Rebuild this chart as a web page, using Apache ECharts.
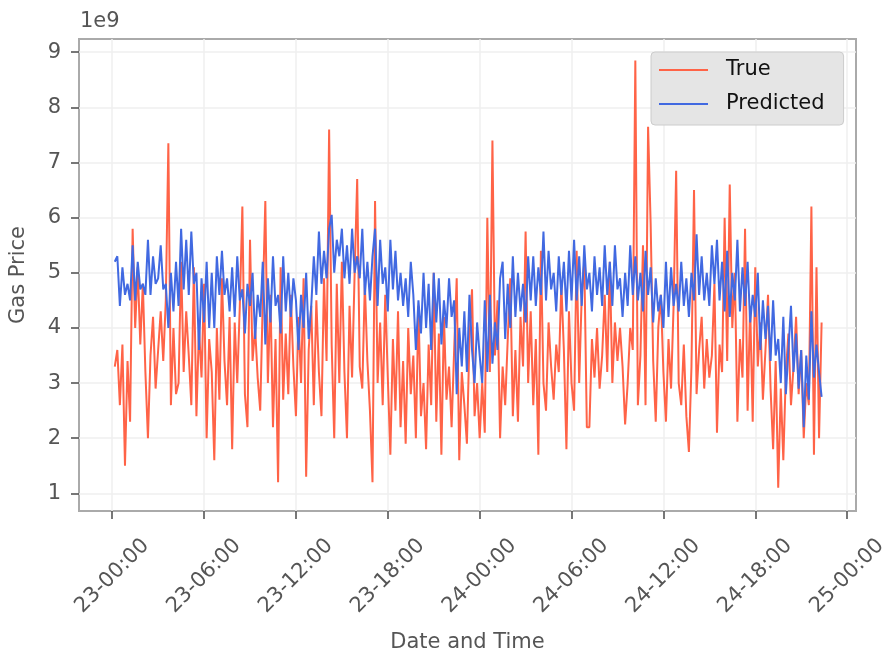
<!DOCTYPE html>
<html><head><meta charset="utf-8">
<script src="https://cdn.jsdelivr.net/npm/echarts@6/dist/echarts.min.js"></script>
<style>html,body{margin:0;padding:0;background:#fff}#c{width:888px;height:654px}</style>
</head><body><div id="c"></div>
<script>
// ---- data (gas price in units of 1e9) ----
const seriesNames = ['True', 'Predicted'];
const startLabel = '23-00:10';   // first sample (day-hour:minute)
const stepMinutes = 10;
const trueValues = [
 3.3,3.6,2.6,3.7,1.5,3.4, 2.3,5.8,4.0,5.1,3.7,4.8, 3.2,2.0,3.5,4.2,2.9,3.6, 4.3,3.4,4.5,7.35,2.6,4.0,
 2.8,3.0,5.2,3.2,4.3,3.5, 2.6,5.1,2.4,4.0,3.1,4.8, 2.0,3.8,3.2,1.6,4.0,2.7, 4.9,3.4,2.6,4.2,1.8,4.1,
 3.0,4.4,6.2,2.8,2.2,5.6, 3.4,4.0,3.1,2.5,4.5,6.3, 3.0,4.6,2.2,3.8,1.2,5.1, 2.7,3.9,2.8,4.6,3.3,2.4,
 4.2,3.0,4.9,1.3,3.6,4.4, 2.6,4.5,3.2,2.4,4.9,3.4, 7.6,3.7,2.0,4.8,3.0,5.2, 3.2,2.0,4.4,3.1,5.0,6.7,
 3.3,2.9,4.8,3.4,2.5,1.2, 6.3,3.0,4.1,2.6,4.6,3.1, 1.7,3.8,2.5,4.3,2.2,3.4, 1.9,4.0,2.8,3.5,2.0,4.4,
 2.4,3.0,1.8,3.7,2.6,5.0, 2.3,3.9,1.7,4.2,2.7,3.3, 2.2,3.6,4.9,1.6,3.2,2.6, 1.9,3.8,4.7,2.4,3.0,2.0,
 3.0,2.1,6.0,3.2,7.4,3.5, 4.5,2.0,3.3,2.6,3.8,4.9, 2.4,3.6,2.3,4.2,3.3,5.75, 3.0,4.3,2.6,3.8,1.7,5.4,
 3.0,2.5,4.1,3.3,2.7,3.7, 3.2,4.8,3.6,1.8,4.3,3.0, 2.5,5.4,3.0,4.6,5.2,2.2, 2.2,3.8,3.1,4.0,2.9,3.5,
 4.6,3.2,5.2,3.0,4.1,3.4, 4.0,3.3,2.25,3.0,4.0,3.6, 8.85,2.6,3.5,5.5,2.6,7.65, 5.9,3.4,2.3,4.0,4.6,3.2,
 2.3,3.8,2.9,4.4,6.85,3.0, 2.6,3.7,2.4,1.75,3.3,6.5, 2.8,3.6,4.2,2.9,3.8,3.1, 3.5,4.8,2.1,3.7,3.2,6.0,
 3.4,6.6,4.0,5.0,2.3,3.8, 3.1,5.8,2.5,4.4,2.3,5.1, 3.3,4.1,2.7,3.6,4.6,2.9, 1.8,3.4,1.1,2.9,1.6,3.2,
 3.9,2.6,3.3,4.2,2.8,3.6, 2.0,3.0,2.6,6.2,1.7,5.1, 2.0,4.1
];
const predictedValues = [
 5.2,5.3,4.4,5.1,4.6,4.8, 4.5,5.5,4.5,5.2,4.7,4.8, 4.6,5.6,4.6,5.3,4.8,4.9, 5.5,4.7,4.8,4.0,5.0,4.3,
 5.2,4.4,5.8,4.7,5.6,4.6, 5.75,4.8,5.0,3.6,4.9,4.1, 5.2,4.0,5.0,4.0,5.3,4.6, 5.4,4.6,4.9,4.3,5.1,4.2,
 5.3,4.5,4.7,3.9,4.8,4.4, 5.0,3.8,4.6,4.2,5.2,3.7, 4.9,4.1,5.3,4.4,4.6,3.9, 5.3,4.3,5.0,4.2,4.9,4.5,
 3.6,4.6,4.0,5.0,3.8,4.4, 5.3,4.6,5.75,4.8,5.4,4.9, 5.8,6.05,5.0,5.6,5.3,5.8, 4.9,5.5,4.8,5.8,5.0,5.3,
 4.9,5.8,4.6,5.2,4.5,5.3, 5.8,4.4,5.6,4.8,5.1,4.3, 5.6,4.7,5.4,4.5,5.0,4.4, 4.9,4.2,5.2,4.6,3.6,4.5,
 3.9,5.0,4.0,4.8,3.6,5.0, 4.1,4.9,3.7,4.5,4.0,4.9, 4.2,4.5,2.8,4.0,3.3,4.3, 3.2,4.6,3.6,3.0,4.1,3.5,
 3.0,4.5,3.2,4.6,3.35,4.1, 3.6,4.9,5.2,3.8,4.8,4.0, 5.3,4.2,5.0,4.3,4.8,4.1, 5.3,4.5,5.3,4.4,5.1,4.6,
 5.75,4.5,5.4,4.7,5.0,4.3, 5.3,4.6,5.2,4.3,5.4,4.5, 5.6,4.5,5.3,4.4,5.5,4.7, 5.0,4.3,5.3,4.6,5.1,4.4,
 5.5,4.6,5.2,4.4,5.5,4.7, 4.9,4.2,5.0,4.4,5.5,4.6, 5.3,4.5,5.0,4.3,5.4,4.6, 5.1,4.1,4.9,4.3,4.6,4.0,
 5.2,4.2,5.1,4.4,4.8,4.3, 5.2,4.4,4.9,4.2,5.0,4.5, 5.7,4.6,5.3,4.5,5.0,4.4, 5.5,4.8,5.6,4.5,5.2,4.3,
 5.4,4.2,5.0,4.5,5.6,4.3, 5.1,4.4,5.2,4.1,4.6,4.2, 5.0,3.6,4.5,3.8,4.4,3.4, 4.5,3.5,3.8,3.0,4.2,2.8,
 3.6,4.4,3.2,3.9,2.9,3.6, 2.2,3.5,2.7,4.3,3.1,3.7, 3.2,2.75
];
const xTickLabels = ['23-00:00','23-06:00','23-12:00','23-18:00','24-00:00','24-06:00','24-12:00','24-18:00','25-00:00'];
const yTickLabels = ['1','2','3','4','5','6','7','8','9'];
const offsetLabel = '1e9';
const xAxisTitle = 'Date and Time';
const yAxisTitle = 'Gas Price';

// ---- build: x is measured in hours since 23-00:00 ----
function labelToHours(lbl){ const d=+lbl.slice(0,2), h=+lbl.slice(3,5), m=+lbl.slice(6,8); return (d-23)*24 + h + m/60; }
const xTickValues = xTickLabels.map(labelToHours);
const yTickValues = yTickLabels.map(Number);
const t0 = labelToHours(startLabel);
const trueData = trueValues.map((v,i)=>[t0 + i*stepMinutes/60, v]);
const predData = predictedValues.map((v,i)=>[t0 + i*stepMinutes/60, v]);
const xMin = xTickValues[0] - 2.17;
const xMax = xTickValues[xTickValues.length-1] + 0.58;
const xLabelFor = v => { const i = xTickValues.findIndex(t => Math.abs(t - v) < 1e-6); return i >= 0 ? xTickLabels[i] : ''; };

const FONT = 'DejaVu Sans';
const chart = echarts.init(document.getElementById('c'), null, {renderer:'canvas'});
chart.setOption({
  animation: false,
  backgroundColor: '#ffffff',
  textStyle: {fontFamily: FONT},
  grid: {left: 79, top: 39, width: 777, height: 472, show: true, borderColor: '#aaaaaa', borderWidth: 2, backgroundColor: 'transparent', containLabel: false, outerBoundsMode: 'none'},
  graphic: [{type: 'text', left: 80, top: 11, style: {text: offsetLabel, font: '21px "DejaVu Sans"', fill: '#555555'}}],
  legend: {
    data: seriesNames, orient: 'vertical', left: 651, top: 52,
    icon: 'rect', itemWidth: 49, itemHeight: 2, itemGap: 10,
    backgroundColor: '#e5e5e5', borderColor: '#cccccc', borderWidth: 1, borderRadius: 4,
    padding: [6, 19, 9, 8],
    textStyle: {fontSize: 21, color: '#111111', fontFamily: FONT, lineHeight: 24, padding: [0, 0, 0, 13]}
  },
  xAxis: {
    type: 'value', min: xMin, max: xMax,
    name: xAxisTitle, nameLocation: 'middle', nameGap: 121,
    nameTextStyle: {fontSize: 21, color: '#555555', fontFamily: FONT},
    axisLine: {show: false, onZero: false},
    axisTick: {show: true, customValues: xTickValues, length: 8, lineStyle: {color: '#555555', width: 1.6}},
    axisLabel: {customValues: xTickValues, formatter: xLabelFor, rotate: 45, align: 'center', verticalAlign: 'middle', margin: 65, fontSize: 21, color: '#555555', fontFamily: FONT},
    splitLine: {show: true, lineStyle: {color: '#efefef', width: 1.5}}
  },
  yAxis: {
    type: 'value', min: 0.68, max: 9.24,
    name: yAxisTitle, nameLocation: 'middle', nameGap: 50, nameRotate: 90,
    nameTextStyle: {fontSize: 21, color: '#555555', fontFamily: FONT},
    axisLine: {show: false, onZero: false},
    axisTick: {show: true, customValues: yTickValues, length: 8, lineStyle: {color: '#555555', width: 1.6}},
    axisLabel: {customValues: yTickValues, formatter: v => String(Math.round(v)), margin: 18, fontSize: 21, color: '#555555', fontFamily: FONT},
    splitLine: {show: true, lineStyle: {color: '#efefef', width: 1.5}}
  },
  series: [
    {name: seriesNames[0], type: 'line', data: trueData, symbol: 'none', color: '#ff6347', lineStyle: {width: 2, color: '#ff6347'}},
    {name: seriesNames[1], type: 'line', data: predData, symbol: 'none', color: '#4169e1', lineStyle: {width: 2, color: '#4169e1'}}
  ]
});
</script></body></html>
